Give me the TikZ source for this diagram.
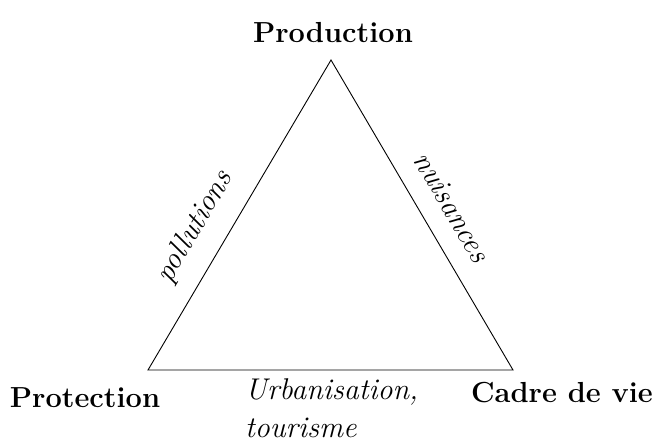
\documentclass[tikz,border=0pt]{standalone}
\usetikzlibrary{positioning}

\begin{document}
\begin{tikzpicture}
 [x=1pt,y=-1pt,
  pole/.style={font=\fontsize{29}{34}\selectfont\bfseries,inner sep=0pt,anchor=base},
  lien/.style={font=\fontsize{30}{38}\selectfont\itshape,inner sep=0pt}]
 \useasboundingbox (0,0) rectangle (652,442);
 \coordinate (vP) at (331,60);
 \coordinate (vT) at (148,370);
 \coordinate (vC) at (513,370);
 \node[pole] (prod) at (333,42) {Production};
 \node[pole] (prot) at (85,407) {Protection};
 \node[pole] (cadre) at (562,402) {Cadre de vie};
 \node[lien,rotate=59.5] (poll) at (195,227) {pollutions};
 \node[lien,rotate=-59.6] (nuis) at (452,207) {nuisances};
 \node[lien,align=left,anchor=north west] (urb) at (245,378) {Urbanisation,\\tourisme};
 \draw[line width=0.9pt] (vP) -- (vC) -- (vT) -- cycle;
\end{tikzpicture}
\end{document}
